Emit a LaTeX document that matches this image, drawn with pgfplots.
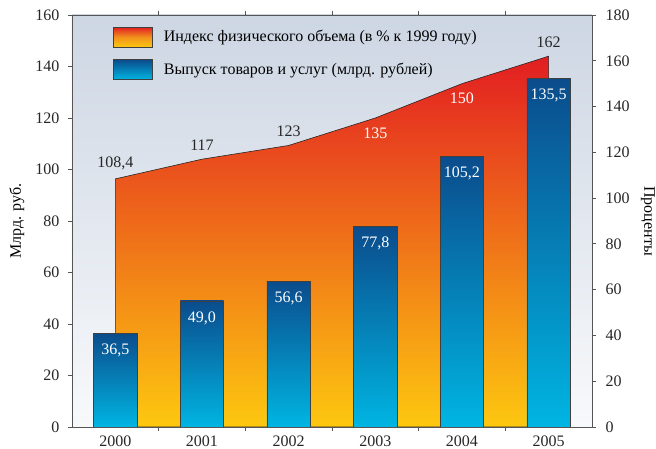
\documentclass[border=0pt]{standalone}
\usepackage{fontspec}
\setmainfont{Liberation Serif}
\usepackage{pgfplots}
\pgfplotsset{compat=1.18}
\definecolor{bgtop}{HTML}{CDD6E3}
\definecolor{bgbot}{HTML}{F8F9FB}
\definecolor{artop}{HTML}{E21E22}
\definecolor{armid}{HTML}{EC7A22}
\definecolor{arbot}{HTML}{FDC810}
\definecolor{bartop}{HTML}{0B4C8C}
\definecolor{barbot}{HTML}{00B5E2}
\definecolor{axcol}{HTML}{555555}
\begin{document}
\begin{tikzpicture}
\fontsize{16}{18}\selectfont
\path[use as bounding box] (-72pt,-22pt) rectangle (584pt,427pt);
\pgfplotsset{every axis/.append style={
  scale only axis, width=520pt, height=412pt,
  xmin=-0.5, xmax=5.5, ymin=0,
  axis line style={axcol, line width=0.8pt},
  tick style={axcol, line width=0.8pt},
  major tick length=4pt, minor tick length=4pt,
  tick align=outside,
  /pgf/number format/assume math mode=true,
  ticklabel style={font=\fontsize{16}{18}\selectfont, text=black!85},
  label style={font=\fontsize{16}{18}\selectfont, text=black!85},
},
mybar/.style={ybar, bar width=0.5, draw=black!75, line width=0.6pt, top color=bartop, bottom color=barbot,
  nodes near coords, point meta=explicit symbolic,
  every node near coord/.append style={anchor=north, text=white, yshift=-5pt, font=\fontsize{16}{18}\selectfont}},
}
% right axis: index (area)
\begin{axis}[
  ymax=180, ytick={0,20,...,180},
  ytick pos=right, yticklabel pos=right,
  yticklabel style={xshift=4pt},
  xtick=\empty,
  axis background/.style={top color=bgtop, bottom color=bgbot},
  every axis y label/.style={at={(axis description cs:1,0.5)}, xshift=56pt, rotate=-90, anchor=center},
  ylabel={Проценты},
]
\addplot[draw=black!85, line width=0.6pt, top color=artop, middle color=armid, bottom color=arbot]
  coordinates {(0,108.4) (1,117) (2,123) (3,135) (4,150) (5,162)} \closedcycle;
\addplot[draw=none, nodes near coords, point meta=explicit symbolic,
  every node near coord/.append style={anchor=south, text=black!85, yshift=3pt, font=\fontsize{16}{18}\selectfont}]
  coordinates {(0,108.4) [108,4] (1,117) [117] (2,123) [123] (5,162) [162]};
\addplot[draw=none, nodes near coords, point meta=explicit symbolic,
  every node near coord/.append style={anchor=north, text=white, yshift=-4pt, font=\fontsize{16}{18}\selectfont}]
  coordinates {(3,135) [135] (4,150) [150]};
\end{axis}
% left axis: output (bars)
\begin{axis}[
  ymax=160, ytick={0,20,...,160},
  ytick pos=left,
  yticklabel style={xshift=-3pt},
  xtick={0,1,2,3,4,5},
  xticklabels={2000,2001,2002,2003,2004,2005},
  xticklabel style={inner sep=1pt, yshift=-4pt},
  minor xtick={0.5,1.5,2.5,3.5,4.5},
  major x tick style={draw=none},
  every axis y label/.style={at={(axis description cs:0,0.5)}, xshift=-55pt, rotate=90, anchor=center},
  ylabel={Млрд. руб.},
  legend style={at={(axis description cs:0.079,0.972)}, anchor=north west,
    draw=none, fill=none, row sep=12pt, column sep=9pt, inner sep=0pt,
    font=\fontsize{16}{18}\selectfont},
  legend cell align=left,
]
\addlegendimage{legend image code/.code={\draw[draw=black!75, line width=0.6pt, top color=artop, bottom color=arbot, middle color=armid!70!arbot] (0pt,-10pt) rectangle (39pt,10pt);}}
\addlegendentry{Индекс физического объема (в \% к 1999 году)}
\addplot[mybar,
  legend image code/.code={\draw[draw=black!75, line width=0.6pt, top color=bartop, bottom color=barbot] (0pt,-10pt) rectangle (39pt,10pt);}]
  coordinates {(0,36.5) [36,5]};
\addlegendentry{Выпуск товаров и услуг (млрд. рублей)}
\addplot[mybar, forget plot] coordinates {(1,49.0) [49,0]};
\addplot[mybar, forget plot] coordinates {(2,56.6) [56,6]};
\addplot[mybar, forget plot] coordinates {(3,77.8) [77,8]};
\addplot[mybar, forget plot] coordinates {(4,105.2) [105,2]};
\addplot[mybar, forget plot] coordinates {(5,135.5) [135,5]};
\end{axis}
\end{tikzpicture}
\end{document}
